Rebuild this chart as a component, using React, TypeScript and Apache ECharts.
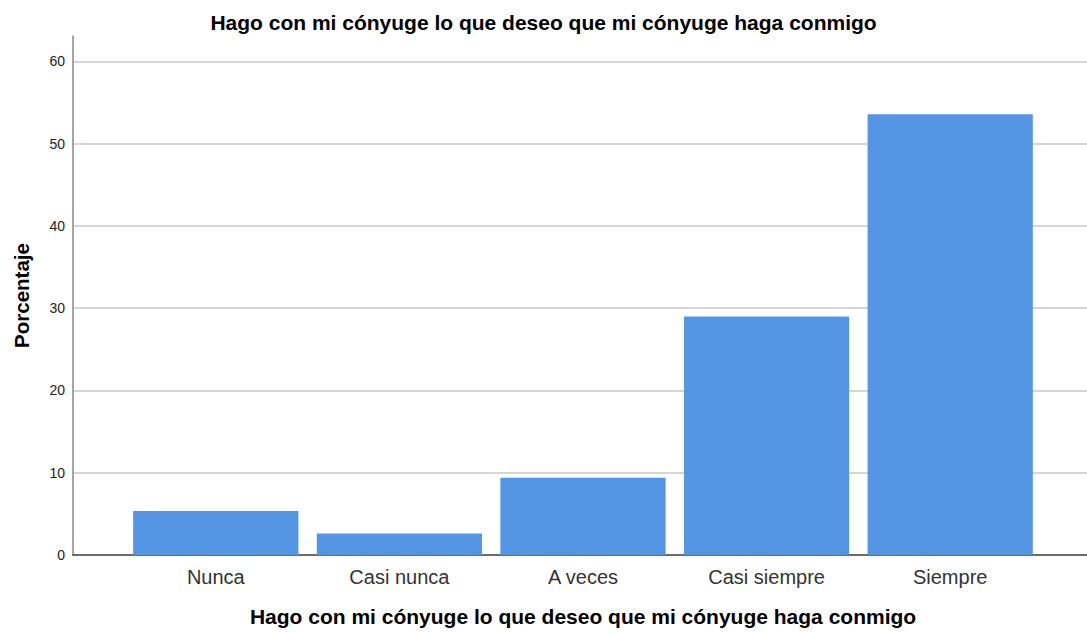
import React, { useEffect, useRef } from "react";
import * as echarts from "echarts";

const categories = ["Nunca", "Casi nunca", "A veces", "Casi siempre", "Siempre"];
const percentages = [5.35, 2.6, 9.4, 29.0, 53.6];
const titleText = "Hago con mi cónyuge lo que deseo que mi cónyuge haga conmigo";
const xAxisTitle = "Hago con mi cónyuge lo que deseo que mi cónyuge haga conmigo";
const yAxisTitle = "Porcentaje";

const FONT = "'Liberation Sans', Arial, sans-serif";
const Y_MAX = 63.1;

export default function App() {
  const ref = useRef<HTMLDivElement>(null);
  useEffect(() => {
    document.body.style.margin = "0";
    const chart = echarts.init(ref.current!, null, { renderer: "svg" });
    chart.setOption({
      animation: false,
      backgroundColor: "#ffffff",
      textStyle: { fontFamily: FONT },
      title: {
        text: titleText,
        left: "center",
        top: 7,
        textStyle: { fontFamily: FONT, fontSize: 21, fontWeight: "bold", color: "#000" },
      },
      grid: [
        { left: 73, right: 0, top: 36, bottom: 78, outerBoundsMode: "none", containLabel: false },
        { left: 124, right: 45, top: 36, bottom: 78, outerBoundsMode: "none", containLabel: false },
      ],
      xAxis: [
        {
          gridIndex: 0,
          type: "value",
          min: 0,
          max: 1,
          axisLine: { show: true, lineStyle: { color: "#3a3a3a", width: 1.5 } },
          axisTick: { show: false },
          axisLabel: { show: false },
          splitLine: { show: false },
        },
        {
          gridIndex: 1,
          type: "category",
          data: categories,
          axisLine: { show: false },
          axisTick: { show: false },
          axisLabel: { fontFamily: FONT, fontSize: 20, color: "#333", margin: 12 },
          name: xAxisTitle,
          nameLocation: "middle",
          nameGap: 51,
          nameTextStyle: { fontFamily: FONT, fontSize: 21, fontWeight: "bold", color: "#000" },
        },
      ],
      yAxis: [
        {
          gridIndex: 0,
          type: "value",
          min: 0,
          max: Y_MAX,
          interval: 10,
          axisLine: { show: true, lineStyle: { color: "#888", width: 1.5 } },
          axisTick: { show: false },
          axisLabel: {
            fontFamily: FONT,
            fontSize: 14,
            color: "#222",
            margin: 8,
            showMaxLabel: false,
            formatter: (v: number) => (v % 10 === 0 ? String(v) : ""),
          },
          splitLine: { show: true, showMaxLine: false, showMinLine: false, lineStyle: { color: "#c8c8c8", width: 1.5 } },
          name: yAxisTitle,
          nameLocation: "middle",
          nameGap: 41,
          nameTextStyle: { fontFamily: FONT, fontSize: 20.5, fontWeight: "bold", color: "#000" },
        },
        {
          gridIndex: 1,
          type: "value",
          min: 0,
          max: Y_MAX,
          show: false,
          splitLine: { show: false },
        },
      ],
      series: [
        {
          type: "bar",
          xAxisIndex: 1,
          yAxisIndex: 1,
          data: percentages,
          barCategoryGap: "10%",
          itemStyle: { color: "#5596E4" },
        },
      ],
    });
    return () => chart.dispose();
  }, []);
  return <div ref={ref} style={{ width: 1087, height: 633 }} />;
}
